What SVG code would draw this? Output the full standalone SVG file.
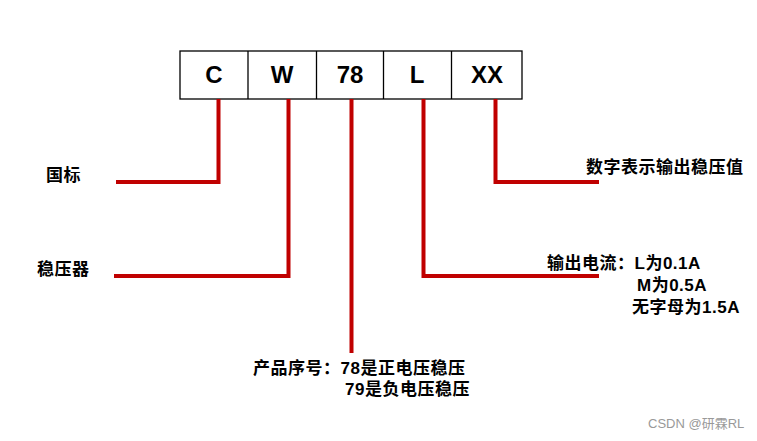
<svg xmlns="http://www.w3.org/2000/svg" width="757" height="441" viewBox="0 0 757 441">
<style>
.box{fill:#fff;stroke:#000;stroke-width:1.3}
.code{font-family:"Liberation Sans",Arial,sans-serif;font-weight:bold;font-size:24px;text-anchor:middle;fill:#000}
.lbl{font-family:"Liberation Sans","Noto Sans CJK SC",sans-serif;font-weight:bold;font-size:17px;fill:#000;letter-spacing:0.5px}
.wire{fill:none;stroke:#c00000;stroke-width:4;stroke-linejoin:miter}
.wm{font-family:"Liberation Sans","Noto Sans CJK SC",sans-serif;font-size:13px;fill:#999}
</style>
<rect width="757" height="441" fill="#fff"/>
<g id="code-box">
<rect class="box" x="180" y="51" width="342" height="48"/>
<line x1="248" y1="51" x2="248" y2="99" stroke="#000" stroke-width="1.3"/>
<line x1="316.5" y1="51" x2="316.5" y2="99" stroke="#000" stroke-width="1.3"/>
<line x1="383.5" y1="51" x2="383.5" y2="99" stroke="#000" stroke-width="1.3"/>
<line x1="451.5" y1="51" x2="451.5" y2="99" stroke="#000" stroke-width="1.3"/>
</g>
<g id="cell-C"><text class="code" x="214" y="83">C</text></g>
<g id="cell-W"><text class="code" x="282" y="83">W</text></g>
<g id="cell-78"><text class="code" x="350" y="83">78</text></g>
<g id="cell-L"><text class="code" x="417" y="83">L</text></g>
<g id="cell-XX"><text class="code" x="487" y="83">XX</text></g>
<g id="connectors">
<polyline class="wire" points="218.5,99 218.5,182 116,182"/>
<polyline class="wire" points="288.5,99 288.5,276 114,276"/>
<polyline class="wire" points="351.5,99 351.5,353"/>
<polyline class="wire" points="423.5,99 423.5,276 599,276"/>
<polyline class="wire" points="495.5,99 495.5,182 599,182"/>
</g>
<g id="label-guobiao"><text class="lbl" x="46" y="181">国标</text></g>
<g id="label-wenyaqi"><text class="lbl" x="37" y="275">稳压器</text></g>
<g id="label-xulie"><text class="lbl" x="253" y="374">产品序号：78是正电压稳压</text><text class="lbl" x="345" y="395">79是负电压稳压</text></g>
<g id="label-dianliu"><text class="lbl" x="547" y="269">输出电流：L为0.1A</text><text class="lbl" x="637" y="291">M为0.5A</text><text class="lbl" x="632" y="313">无字母为1.5A</text></g>
<g id="label-shuzi"><text class="lbl" x="586" y="173">数字表示输出稳压值</text></g>
<text class="wm" x="648" y="428">CSDN @研霖RL</text>
</svg>
